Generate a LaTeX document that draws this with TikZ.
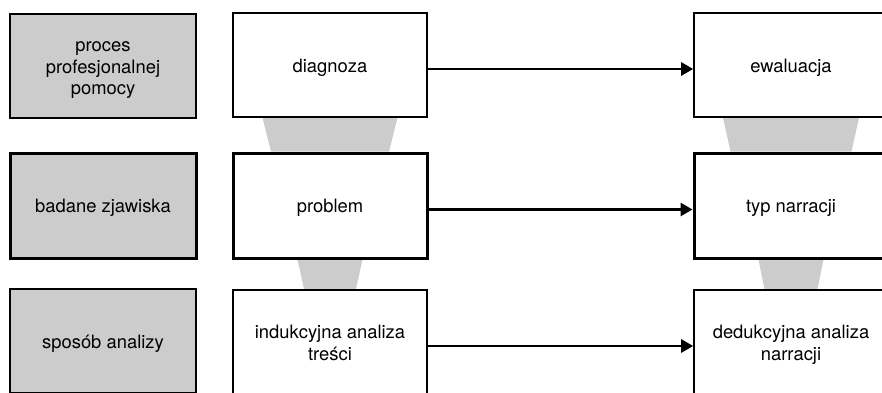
\documentclass[tikz,border=0pt]{standalone}
\usepackage{fontspec}
\setmainfont{TeX Gyre Heros}
\usetikzlibrary{arrows.meta,calc,backgrounds}
% centred lines, set a little below the geometric centre of the box
\newcommand{\boxtext}[1]{\raisebox{-3pt}[\height][\depth]{\begin{tabular}{@{}c@{}}#1\end{tabular}}}
\definecolor{headgray}{HTML}{CCCCCC}

\begin{document}
\begin{tikzpicture}[x=1pt,y=-1pt,
  cell/.style={rectangle, draw=black, fill=white, line width=1.6pt,
    minimum width=194pt, minimum height=104pt, inner sep=0pt,
    font=\fontsize{18.4}{21.5}\selectfont},
  thickcell/.style={cell, line width=3pt, minimum height=105pt},
  headcell/.style={fill=headgray, minimum width=186pt},
  funnel/.style={fill=headgray, draw=none},
  flow/.style={draw=black, line width=2.6pt, -{Triangle[length=12pt,width=13pt]}}]
\useasboundingbox (0,0) rectangle (882,392);
\clip (0,0) rectangle (882,392);

% row headings
\node[cell, headcell]      (h1) at (103,66)    {\boxtext{proces\\profesjonalnej\\pomocy}};
\node[thickcell, headcell] (h2) at (103,205.5) {\boxtext{badane zjawiska}};
\node[cell, headcell]      (h3) at (103,341)   {\boxtext{sposób analizy}};

% middle column
\node[cell]      (d) at (330,65)    {\boxtext{diagnoza}};
\node[thickcell] (p) at (330,205.5) {\boxtext{problem}};
\node[cell]      (i) at (330,342)   {\boxtext{indukcyjna analiza\\treści}};

% right column
\node[cell]      (e) at (791,65)    {\boxtext{ewaluacja}};
\node[thickcell] (t) at (791,205.5) {\boxtext{typ narracji}};
\node[cell]      (n) at (791,342)   {\boxtext{dedukcyjna analiza\\narracji}};

% funnels joining the rows
\begin{scope}[on background layer]
  \fill[funnel] ($(d.south)+(-67.5,0)$) -- ($(d.south)+(67.5,0)$)
    -- ($(p.north)+(59,0)$) -- ($(p.north)+(-59,0)$) -- cycle;
  \fill[funnel] ($(p.south)+(-32.5,0)$) -- ($(p.south)+(32.5,0)$)
    -- ($(i.north)+(26,0)$) -- ($(i.north)+(-26,0)$) -- cycle;
  \fill[funnel] ($(e.south)+(-68,0)$) -- ($(e.south)+(68,0)$)
    -- ($(t.north)+(60.5,0)$) -- ($(t.north)+(-60.5,0)$) -- cycle;
  \fill[funnel] ($(t.south)+(-32.5,0)$) -- ($(t.south)+(32.5,0)$)
    -- ($(n.north)+(26.5,0)$) -- ($(n.north)+(-26.5,0)$) -- cycle;
\end{scope}

% arrows between the columns
\draw[flow] ($(d.east)+(0,4)$) -- ($(e.west)+(0,4)$);
\draw[flow] ($(p.east)+(0,4)$) -- ($(t.west)+(0,4)$);
\draw[flow] ($(i.east)+(0,4)$) -- ($(n.west)+(0,4)$);
\end{tikzpicture}
\end{document}
